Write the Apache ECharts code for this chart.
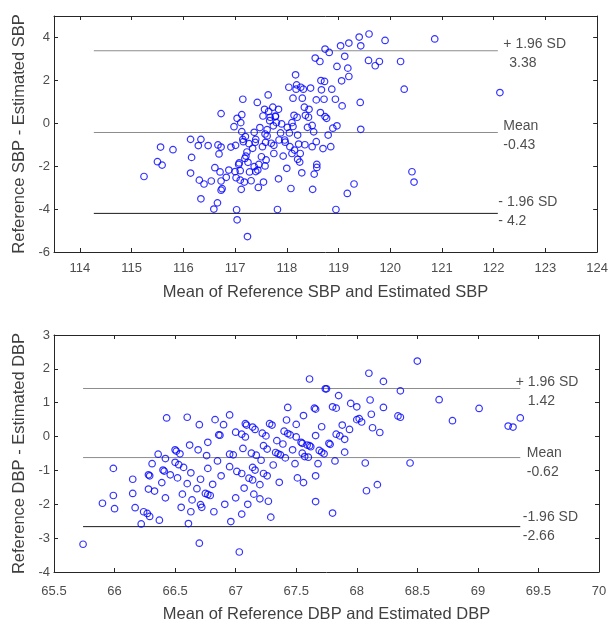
<!DOCTYPE html>
<html>
<head>
<meta charset="utf-8">
<script src="https://cdn.jsdelivr.net/npm/echarts@6/dist/echarts.min.js"></script>
<style>html,body{margin:0;padding:0;background:#fff}#c{width:611px;height:624px}</style>
</head>
<body>
<div id="c"></div>
<script>
// ---------- DATA ----------
const sbpMean = [115.24,115.50,115.56,115.59,115.80,116.14,116.16,116.14,116.29,116.34,116.31,116.40,116.34,116.48,116.54,116.61,116.59,116.66,116.67,116.73,116.69,116.71,116.73,116.73,116.75,116.73,116.83,116.88,116.92,116.98,117.01,117.04,117.02,117.03,117.04,117.08,117.10,117.10,117.11,117.13,117.13,117.15,117.15,117.16,117.12,117.18,117.19,117.21,117.23,117.25,117.24,117.28,117.31,117.34,117.37,117.37,117.43,117.44,117.45,117.51,117.53,117.54,117.55,117.57,117.58,117.58,117.60,117.62,117.64,117.65,117.67,117.70,117.73,117.74,117.75,117.78,117.80,117.82,117.84,117.85,117.90,117.93,117.96,118.00,118.01,118.04,118.06,118.08,118.10,118.12,118.14,118.15,118.17,118.18,118.19,118.21,118.21,118.23,118.25,118.27,118.29,118.30,118.32,118.34,118.36,118.40,118.43,118.46,118.49,118.50,118.52,118.53,118.55,118.57,118.57,118.58,118.64,118.65,118.66,118.67,118.70,118.72,118.74,118.73,118.74,118.77,118.80,118.82,118.85,118.87,118.89,118.94,118.95,118.97,118.97,119.04,119.06,119.07,119.12,119.17,119.18,119.20,119.20,119.30,119.40,119.42,119.43,119.43,119.58,119.59,119.71,119.79,119.90,120.20,120.27,120.42,120.46,120.86,122.12,
  117.20,117.27,117.40,117.48,117.62,117.68,117.78,117.84,117.88,117.97,118.05,118.12,118.20,118.26,118.35,118.42,118.49,118.58,117.07,117.46,117.59,117.39,118.10,117.75,117.00,117.40];
const sbpDiff = [-2.48,-1.79,-1.11,-1.95,-1.23,-0.75,-1.59,-2.32,-1.04,-0.75,-2.65,-2.83,-3.52,-1.04,-2.69,-2.07,-4.00,-3.71,-1.01,0.45,-1.43,-2.27,-1.11,-2.69,-3.05,-3.12,-2.52,-2.18,-1.11,-0.16,-1.03,0.23,-2.54,-4.03,-4.50,-1.85,-2.21,-2.65,0.03,0.40,-0.39,1.12,-0.75,-0.86,-3.08,-2.74,-1.64,-1.53,-1.34,-1.82,-5.28,-2.27,-2.68,-1.17,-0.42,-2.02,0.97,-2.18,-2.99,-1.56,-1.09,0.34,-2.74,0.65,-0.50,-1.99,-1.71,-0.59,1.32,0.55,0.12,-0.93,0.75,-0.12,-1.03,0.31,0.03,-4.02,-2.59,-0.78,-0.03,-1.53,-0.78,-2.10,-0.19,1.68,-1.09,-3.04,0.03,1.17,0.37,-1.25,2.26,1.59,1.79,-1.68,-0.55,-0.97,-1.81,1.68,-2.31,1.17,1.59,0.75,0.37,-0.19,0.65,1.64,-1.09,-3.08,-0.40,-2.37,3.04,-0.86,1.09,-2.06,2.88,0.50,1.99,1.56,-1.18,1.12,3.46,1.95,0.31,0.23,-0.55,3.30,-1.09,1.59,-0.23,1.12,-4.02,-0.12,2.65,3.61,1.98,0.81,3.12,-3.27,2.57,3.74,2.18,-2.83,4.02,0.97,3.61,-0.28,2.93,4.16,2.68,2.88,3.86,2.88,1.59,-2.26,-2.74,3.93,1.43,
  -0.62,-0.95,-0.75,-0.20,-0.30,0.28,0.34,0.65,-0.45,-0.88,-0.45,-0.15,0.28,-1.41,-1.00,0.28,-0.10,-1.92,-1.92,-1.92,-0.89,-0.89,-1.41,-1.41,-2.25,-2.25];

const dbpMean = [65.74,65.90,65.99,65.99,66.00,66.15,66.15,66.17,66.22,66.24,66.27,66.29,66.28,66.29,66.28,66.31,66.33,66.36,66.37,66.39,66.40,66.41,66.42,66.42,66.43,66.46,66.50,66.50,66.51,66.52,66.53,66.54,66.55,66.56,66.57,66.60,66.60,66.61,66.62,66.63,66.63,66.64,66.68,66.69,66.70,66.70,66.71,66.71,66.72,66.75,66.76,66.77,66.77,66.77,66.79,66.81,66.82,66.83,66.85,66.86,66.87,66.88,66.90,66.91,66.95,66.95,66.95,66.96,66.98,67.00,67.00,67.01,67.03,67.05,67.05,67.05,67.06,67.07,67.08,67.08,67.09,67.10,67.11,67.13,67.14,67.14,67.14,67.15,67.16,67.16,67.17,67.20,67.20,67.21,67.22,67.23,67.23,67.25,67.26,67.26,67.27,67.28,67.30,67.29,67.31,67.33,67.34,67.35,67.36,67.37,67.39,67.40,67.41,67.42,67.43,67.43,67.45,67.47,67.49,67.50,67.50,67.51,67.54,67.55,67.55,67.56,67.56,67.57,67.59,67.60,67.61,67.61,67.62,67.65,67.66,67.66,67.66,67.66,67.68,67.69,67.71,67.71,67.73,67.74,67.75,67.77,67.78,67.80,67.80,67.82,67.83,67.83,67.85,67.86,67.88,67.90,67.90,67.94,67.95,68.00,68.00,68.02,68.04,68.07,68.08,68.10,68.11,68.12,68.13,68.17,68.19,68.22,68.22,68.34,68.36,68.36,68.44,68.50,68.68,68.79,69.01,69.25,69.29,69.35];
const dbpDiff = [-3.18,-1.97,-0.94,-1.74,-2.13,-1.26,-1.68,-2.10,-2.58,-2.22,-2.27,-2.36,-1.13,-1.16,-1.55,-0.80,-1.61,-0.52,-2.47,-1.36,-0.99,-1.02,-1.81,-0.65,0.55,-1.13,-0.76,-0.39,-0.43,-1.22,-0.83,-0.51,-2.09,-1.70,-0.91,-1.39,0.57,-2.57,-0.25,-2.22,-1.07,-1.87,-1.54,-0.39,0.35,-3.15,-2.01,-1.26,-2.09,-1.68,-0.56,-0.17,-0.94,-1.71,-1.74,-1.41,-2.22,0.50,-0.72,0.05,0.04,-1.16,0.35,-2.00,0.64,-0.89,-0.52,-2.51,-0.54,0.13,-1.81,-1.03,-3.41,0.07,-1.09,-2.29,-0.35,-1.52,-0.01,0.38,0.34,-2.00,-1.23,-0.49,-0.91,0.28,-1.28,-1.70,-0.99,0.21,-0.55,-1.84,-1.42,-0.70,0.10,-0.27,-1.09,0.02,-1.16,-0.37,-1.91,0.38,0.34,-2.38,-0.84,-0.47,-0.12,-0.51,-1.35,-0.54,-0.22,0.16,-0.63,0.49,0.86,0.09,0.05,-0.39,-0.80,-0.01,0.36,-1.22,-0.17,-0.49,-0.20,-1.36,0.62,-0.59,-0.25,-0.61,1.70,-0.27,-0.30,0.84,0.81,-1.16,0.03,-1.92,-0.80,-0.41,0.29,-0.46,-0.51,1.41,1.41,-0.20,-0.23,-2.26,0.88,-0.72,0.84,0.07,1.21,0.02,0.34,-0.46,-0.08,0.21,0.98,0.88,0.50,0.53,0.43,-0.78,-1.60,1.87,1.08,0.66,0.26,-1.42,0.12,1.63,0.86,0.61,1.35,0.57,-0.78,2.23,1.09,0.47,0.83,0.31,0.28,0.55];

// limits of agreement: [+1.96 SD, mean, -1.96 SD]
const sbpLimits = [3.38, -0.43, -4.2];
const sbpLimitNames = ['+ 1.96 SD', 'Mean', '- 1.96 SD'];
const sbpLimitText = ['3.38', '-0.43', '- 4.2'];
const sbpLineX = [114.27, 122.08];

const dbpLimits = [1.42, -0.62, -2.66];
const dbpLimitNames = ['+ 1.96 SD', 'Mean', '-1.96 SD'];
const dbpLimitText = ['1.42', '-0.62', '-2.66'];
const dbpLineX = [65.74, 69.35];

// axes
const sbpXRange = [113.5, 124];
const sbpXTicks = [114,115,116,117,118,119,120,121,122,123,124];
const sbpYRange = [-6, 5];
const sbpYTicks = [-6,-4,-2,0,2,4];
const dbpXRange = [65.5, 70];
const dbpXTicks = [65.5,66,66.5,67,67.5,68,68.5,69,69.5,70];
const dbpYRange = [-4, 3];
const dbpYTicks = [-4,-3,-2,-1,0,1,2,3];

const sbpXName = 'Mean of Reference SBP and Estimated SBP';
const sbpYName = 'Reference SBP - Estimated SBP';
const dbpXName = 'Mean of Reference DBP and Estimated DBP';
const dbpYName = 'Reference DBP - Estimated DBP';

// ---------- STYLE ----------
const FONT = "'Liberation Sans', Arial, Helvetica, sans-serif";
const AX = '#262626';
const lineColors = ['#8c8c8c', '#8c8c8c', '#1a1a1a'];
// label placement relative to line end [dx, dy, indent of value line]
const sbpLabelPos = [[5, 3.2, 6], [5, 3.6, 0], [0, -1.3, 0]];
const dbpLabelPos = [[-5, 3, 12], [6, 5, 0], [2, 0.5, 0]];

function zip(a, b) { return a.map((v, i) => [v, b[i]]); }

function mainX(grid, range, ticks, name, margin, gap) {
  return {
    type: 'value', gridIndex: grid, min: range[0], max: range[1], position: 'bottom',
    name: name, nameLocation: 'middle', nameGap: gap,
    nameTextStyle: { fontFamily: FONT, fontSize: 16.5, color: '#404040' },
    axisLine: { show: true, onZero: false, lineStyle: { color: AX, width: 1 } },
    axisTick: { show: true, inside: true, length: 4, customValues: ticks, lineStyle: { color: AX } },
    axisLabel: { show: true, margin: margin, customValues: ticks, fontFamily: FONT, fontSize: 13, color: '#4d4d4d' },
    splitLine: { show: false }
  };
}
function topX(grid, range, ticks) {
  return {
    type: 'value', gridIndex: grid, min: range[0], max: range[1], position: 'top',
    axisLine: { show: true, onZero: false, lineStyle: { color: AX, width: 1 } },
    axisTick: { show: true, inside: true, length: 4, customValues: ticks, lineStyle: { color: AX } },
    axisLabel: { show: false }, splitLine: { show: false }
  };
}
function mainY(grid, range, ticks, name) {
  return {
    type: 'value', gridIndex: grid, min: range[0], max: range[1], position: 'left',
    name: name, nameLocation: 'middle', nameGap: 20,
    nameTextStyle: { fontFamily: FONT, fontSize: 16.5, color: '#404040' },
    axisLine: { show: true, onZero: false, lineStyle: { color: AX, width: 1 } },
    axisTick: { show: true, inside: true, length: 4, customValues: ticks, lineStyle: { color: AX } },
    axisLabel: { show: true, margin: 4, customValues: ticks, fontFamily: FONT, fontSize: 13, color: '#4d4d4d' },
    splitLine: { show: false }
  };
}
function rightY(grid, range, ticks) {
  return {
    type: 'value', gridIndex: grid, min: range[0], max: range[1], position: 'right',
    axisLine: { show: true, onZero: false, lineStyle: { color: AX, width: 1 } },
    axisTick: { show: true, inside: true, length: 4, customValues: ticks, lineStyle: { color: AX } },
    axisLabel: { show: false }, splitLine: { show: false }
  };
}

function scatter(xi, yi, data) {
  return {
    type: 'scatter', xAxisIndex: xi, yAxisIndex: yi, data: data,
    symbol: 'circle', symbolSize: 6.5, silent: true,
    itemStyle: { color: 'rgba(0,0,0,0)', borderColor: '#0000ff', borderWidth: 1.2 },
    z: 3
  };
}

function limitLines(xi, yi, limits, lineX) {
  return limits.map((v, i) => ({
    type: 'line', xAxisIndex: xi, yAxisIndex: yi, symbol: 'none', silent: true,
    lineStyle: { color: lineColors[i], width: 1 },
    z: 2,
    data: [[lineX[0], v], [lineX[1], v]]
  }));
}

function limitLabels(xi, yi, limits, names, texts, lineX, pos) {
  return {
    type: 'scatter', xAxisIndex: xi, yAxisIndex: yi, silent: true,
    symbol: 'circle', symbolSize: 1, clip: false,
    itemStyle: { color: 'rgba(0,0,0,0)' },
    z: 4,
    data: limits.map((v, i) => ({
      value: [lineX[1], v],
      label: {
        show: true, position: 'right', distance: 0, offset: [pos[i][0], pos[i][1]],
        formatter: '{a|' + names[i] + '}\n{b|' + texts[i] + '}',
        rich: {
          a: { fontFamily: FONT, fontSize: 14, color: '#222222', lineHeight: 19 },
          b: { fontFamily: FONT, fontSize: 14, color: '#222222', lineHeight: 19, padding: [0, 0, 0, pos[i][2]] }
        }
      }
    }))
  };
}

const chart = echarts.init(document.getElementById('c'), null, { renderer: 'canvas' });
chart.setOption({
  backgroundColor: '#ffffff',
  animation: false,
  grid: [
    { left: 54, top: 16, width: 545, height: 236, containLabel: false },
    { left: 54, top: 335, width: 545, height: 243, containLabel: false }
  ],
  xAxis: [
    mainX(0, sbpXRange, sbpXTicks, sbpXName, 10, 32),
    topX(0, sbpXRange, sbpXTicks),
    mainX(1, dbpXRange, dbpXTicks, dbpXName, 13, 34),
    topX(1, dbpXRange, dbpXTicks)
  ],
  yAxis: [
    mainY(0, sbpYRange, sbpYTicks, sbpYName),
    rightY(0, sbpYRange, sbpYTicks),
    mainY(1, dbpYRange, dbpYTicks, dbpYName),
    rightY(1, dbpYRange, dbpYTicks)
  ],
  series: [
    scatter(0, 0, zip(sbpMean, sbpDiff)),
    ...limitLines(0, 0, sbpLimits, sbpLineX),
    limitLabels(0, 0, sbpLimits, sbpLimitNames, sbpLimitText, sbpLineX, sbpLabelPos),
    scatter(2, 2, zip(dbpMean, dbpDiff)),
    ...limitLines(2, 2, dbpLimits, dbpLineX),
    limitLabels(2, 2, dbpLimits, dbpLimitNames, dbpLimitText, dbpLineX, dbpLabelPos)
  ]
});
</script>
</body>
</html>
